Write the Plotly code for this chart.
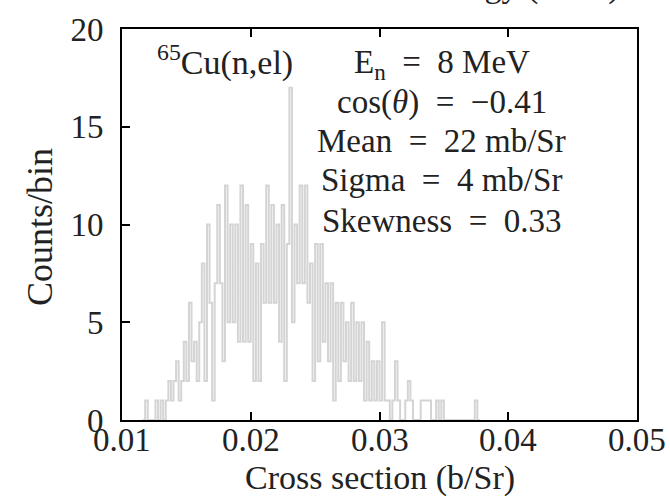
import numpy as np
import plotly.graph_objects as go

# Histogram of sampled cross sections: bin start, bin width and counts per bin
bin_start = 0.0116
bin_width = 0.0002
counts = [
    0, 1, 0, 0, 0, 1, 0, 1, 0, 1,
    2, 1, 2, 3, 1, 2, 4, 2, 6, 3,
    4, 2, 5, 8, 2, 10, 6, 1, 7, 11,
    7, 3, 12, 5, 10, 5, 10, 4, 12, 4,
    11, 4, 9, 2, 8, 2, 9, 6, 12, 6,
    11, 6, 10, 4, 11, 2, 9, 17, 5, 10,
    7, 12, 7, 12, 6, 8, 2, 9, 3, 9,
    4, 7, 3, 7, 1, 6, 2, 6, 3, 5,
    2, 6, 2, 5, 2, 5, 1, 4, 1, 3,
    1, 3, 1, 5, 1, 1, 0, 1, 3, 1,
    0, 0, 1, 2, 1, 0, 0, 0, 1, 1,
    1, 1, 0, 0, 1, 0, 1, 0, 0, 0,
    0, 0, 0, 0, 0, 0, 0, 0, 0, 1,
    0,
]

x_ticks = [0.01, 0.02, 0.03, 0.04, 0.05]
y_ticks = [0, 5, 10, 15, 20]

EQ = "\u2002=\u2002"
info_lines = [
    f"E<sub>n</sub>{EQ}8 MeV",
    f"cos(<i>θ</i>){EQ}−0.41",
    f"Mean{EQ}22 mb/Sr",
    f"Sigma{EQ}4 mb/Sr",
    f"Skewness{EQ}0.33",
]
reaction = "<sup>65</sup>Cu(n,el)"

# step outline: left edges of every bin plus the closing right edge
edges = bin_start + bin_width * np.arange(len(counts) + 1)
step_y = list(counts) + [counts[-1]]

FONT = "Liberation Serif"
INK = "#222"

fig = go.Figure()
fig.add_trace(go.Scatter(
    x=edges, y=step_y, mode="lines", line_shape="hv",
    line=dict(color="#d4d4d4", width=2),
    hoverinfo="skip", showlegend=False,
))

axis_common = dict(
    showgrid=False, zeroline=False, showline=True, linecolor="black", linewidth=2,
    ticks="inside", ticklen=8, tickwidth=2, tickcolor="black",
    tickfont=dict(family=FONT, size=33, color=INK),
)
fig.update_xaxes(range=[0.01, 0.05], tickvals=x_ticks, showticklabels=False,
                 mirror="ticks", **axis_common)
fig.update_yaxes(range=[0, 20], tickvals=y_ticks, ticklabelstandoff=10,
                 ticktext=[str(v) for v in y_ticks], mirror=True, **axis_common)

ann = []
# x tick labels sit close under the axis line
for v in x_ticks:
    ann.append(dict(text=f"{v:.2f}", x=v, y=-0.052, xref="x", yref="paper",
                    xanchor="center", yanchor="middle", showarrow=False,
                    font=dict(family=FONT, size=33, color=INK)))
ys = [0.908, 0.813, 0.713, 0.614, 0.509]
for text, yy in zip(info_lines, ys):
    ann.append(dict(text=text, x=0.621, y=yy, xref="paper", yref="paper",
                    xanchor="center", yanchor="middle", showarrow=False,
                    font=dict(family=FONT, size=33, color=INK)))
ann.append(dict(text=reaction, x=0.2, y=0.92, xref="paper", yref="paper",
                xanchor="center", yanchor="middle", showarrow=False,
                font=dict(family=FONT, size=34, color=INK)))
ann.append(dict(text="Cross section (b/Sr)", x=0.5, y=-0.148, xref="paper", yref="paper",
                xanchor="center", yanchor="middle", showarrow=False,
                font=dict(family=FONT, size=34, color=INK)))
ann.append(dict(text="Counts/bin", x=-0.159, y=0.494, xref="paper", yref="paper",
                xanchor="center", yanchor="middle", showarrow=False, textangle=-90,
                font=dict(family=FONT, size=36, color=INK)))
ann.append(dict(text="Energy (MeV)", x=0.773, y=1.056, xref="paper", yref="paper",
                xanchor="center", yanchor="bottom", showarrow=False,
                font=dict(family=FONT, size=34, color=INK)))

fig.update_layout(
    width=670, height=504,
    margin=dict(l=122, r=33, t=19, b=84),
    paper_bgcolor="white", plot_bgcolor="white",
    annotations=ann,
)

fig.write_html("out.html")
